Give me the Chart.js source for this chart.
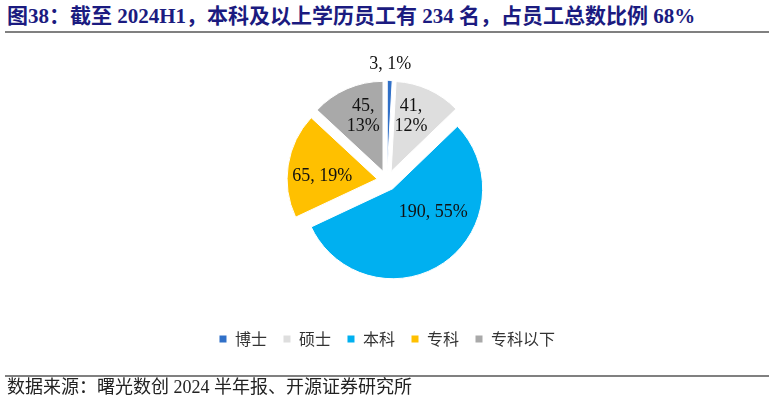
<!DOCTYPE html>
<html>
<head>
<meta charset="utf-8">
<script src="https://cdn.jsdelivr.net/npm/chart.js@4.4.1/dist/chart.umd.min.js"></script>
<style>
  html, body { margin: 0; padding: 0; background: #fff; }
  #wrap { position: relative; width: 774px; height: 406px; overflow: hidden; }
  #title { position: absolute; left: 7px; top: 4px; height: 24px; line-height: 24px; white-space: nowrap;
    font-family: "Liberation Serif", "Noto Sans CJK SC", serif; font-weight: bold; font-size: 21px; color: #1b1b80; }
  .rule { position: absolute; left: 5px; width: 764px; height: 2px; background: #808080; }
  #source { position: absolute; left: 7px; top: 377px; height: 20px; line-height: 20px; white-space: nowrap;
    font-family: "Liberation Serif", "Noto Sans CJK SC", serif; font-size: 18px; color: #222; }
  #cv { position: absolute; left: 0; top: 0; }
</style>
</head>
<body>
<div id="wrap">
  <div id="title">图38：截至 2024H1，本科及以上学历员工有 234 名，占员工总数比例 68%</div>
  <div class="rule" style="top:31px"></div>
  <canvas id="cv" width="774" height="406"></canvas>
  <div class="rule" style="top:375px"></div>
  <div id="source">数据来源：曙光数创 2024 半年报、开源证券研究所</div>
</div>
<script>
// ---- data ----
const categories = ["博士", "硕士", "本科", "专科", "专科以下"];
const values = [3, 41, 190, 65, 45];
const colors = ["#3070C8", "#DEDEDE", "#00B0F0", "#FFC000", "#A9A9A9"];
// ---- label placement (style) ----
const labelWrap = [false, true, false, false, true];
const labelAngleFrac = [0.5, 0.39, 0.37, 0.41, 0.58];
const labelRadiusFrac = [1.18, 0.65, 0.52, 0.61, 0.65];
const explode = 10;

const total = values.reduce((a, b) => a + b, 0);

const explodePlugin = {
  id: 'explode',
  beforeDatasetDraw(chart, args) {
    const meta = chart.getDatasetMeta(args.index);
    meta.data.forEach(arc => {
      const mid = (arc.startAngle + arc.endAngle) / 2;
      arc._ox = arc.x; arc._oy = arc.y;
      arc.x = arc._ox + Math.cos(mid) * explode;
      arc.y = arc._oy + Math.sin(mid) * explode;
    });
  },
  afterDatasetDraw(chart, args) {
    const meta = chart.getDatasetMeta(args.index);
    const ctx = chart.ctx;
    ctx.save();
    ctx.font = '18px "Liberation Serif", serif';
    ctx.fillStyle = '#111';
    ctx.textAlign = 'center';
    ctx.textBaseline = 'middle';
    meta.data.forEach((arc, i) => {
      const a = arc.startAngle + (arc.endAngle - arc.startAngle) * labelAngleFrac[i];
      const r = arc.outerRadius * labelRadiusFrac[i];
      const x = arc.x + Math.cos(a) * r;
      const y = arc.y + Math.sin(a) * r;
      const pct = Math.round(values[i] / total * 100) + '%';
      const lines = labelWrap[i] ? [values[i] + ',', pct] : [values[i] + ', ' + pct];
      const lh = 20;
      lines.forEach((t, k) => {
        ctx.fillText(t, x, y + (k - (lines.length - 1) / 2) * lh);
      });
      arc.x = arc._ox; arc.y = arc._oy;
    });
    ctx.restore();
  }
};

new Chart(document.getElementById('cv'), {
  type: 'pie',
  data: {
    labels: categories,
    datasets: [{
      data: values,
      backgroundColor: colors,
      borderColor: '#ffffff',
      borderWidth: 1
    }]
  },
  options: {
    responsive: false,
    animation: false,
    radius: 90,
    layout: { padding: { top: 46, bottom: 49, left: 20, right: 20 } },
    plugins: {
      legend: {
        position: 'bottom',
        labels: {
          boxWidth: 8,
          boxHeight: 8,
          padding: 16,
          color: '#333',
          font: { family: '"Noto Sans CJK SC", sans-serif', size: 16 }
        }
      },
      tooltip: { enabled: false }
    }
  },
  plugins: [explodePlugin]
});
</script>
</body>
</html>
